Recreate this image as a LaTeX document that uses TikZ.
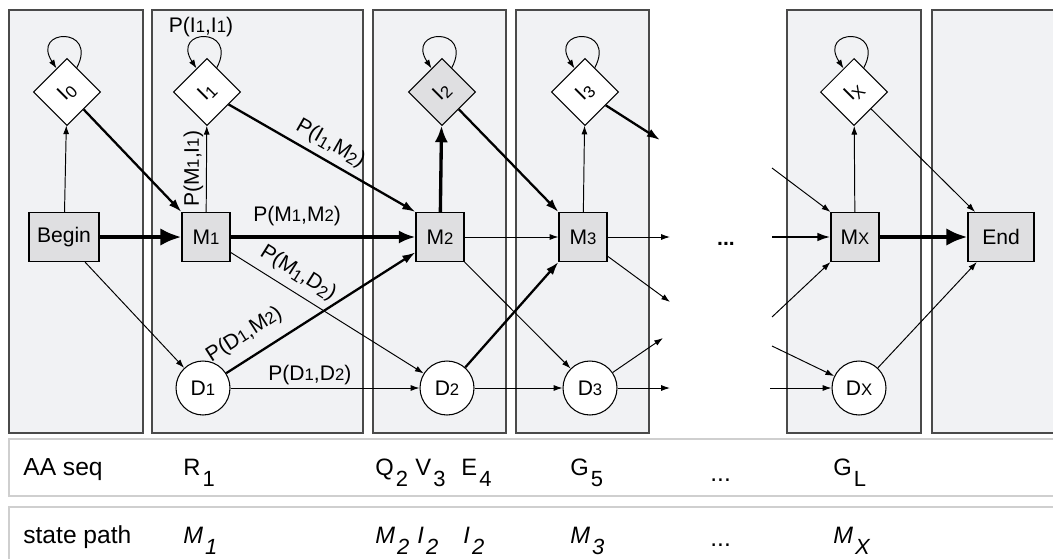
\documentclass[tikz,border=0pt]{standalone}
\usepackage{fontspec}
\setmainfont{Liberation Sans}
\usetikzlibrary{positioning,shapes.geometric,arrows.meta}

\definecolor{colfill}{HTML}{F1F2F4}
\definecolor{colline}{HTML}{4A4A4A}
\definecolor{statefill}{HTML}{DFDFE1}
\definecolor{rowline}{HTML}{CFCFCF}

% small digits, on the baseline or lowered
\newcommand{\dg}[1]{{\fontsize{9.5}{9.5}\selectfont #1}}
\newcommand{\sdg}[1]{\raisebox{-2pt}{\fontsize{9.5}{9.5}\selectfont #1}}
% large lowered index in the sequence rows
\newcommand{\lsub}[1]{\kern1.2pt\raisebox{-6.5pt}{\fontsize{12.5}{12.5}\selectfont #1}}

\begin{document}
\begin{tikzpicture}[x=0.02cm, y=-0.02cm,
			column/.style={draw=colline, fill=colfill, line width=0.6pt},
			seqrow/.style={draw=rowline, fill=white, line width=0.8pt},
			mstate/.style={rectangle, draw=black, fill=statefill, line width=0.6pt, minimum width=0.96cm, minimum height=0.98cm, inner sep=0pt, font=\fontsize{12}{14}\selectfont},
			istate/.style={diamond, draw=black, fill=white, line width=0.6pt, minimum width=1.34cm, minimum height=1.34cm, inner sep=0pt, font=\fontsize{12}{14}\selectfont},
			dstate/.style={circle, draw=black, fill=white, line width=0.6pt, minimum size=1.08cm, inner sep=0pt, font=\fontsize{12}{14}\selectfont},
			arr/.style={-{Latex[length=5pt,width=3.4pt]}, line width=0.55pt},
			arrb/.style={-{Latex[length=7.5pt,width=5pt]}, line width=1.3pt},
			arrB/.style={-{Latex[length=9.5pt,width=7.5pt]}, line width=1.9pt},
			arrH/.style={-{Latex[length=12pt,width=10pt]}, line width=2.4pt},
			lbl/.style={font=\fontsize{12}{14}\selectfont, inner sep=1.5pt},
			rowtxt/.style={anchor=base west, inner sep=0pt, font=\fontsize{13.5}{15}\selectfont},
			rowpath/.style={rowtxt, font=\itshape\fontsize{13.5}{15}\selectfont},
			rowhead/.style={anchor=base west, inner sep=0pt, font=\fontsize{14}{16}\selectfont},
		]

		\useasboundingbox (0,0) rectangle (1053,558);
		\clip (0,0) rectangle (1053,558);

		% columns
		\foreach \xa/\xb in {9/143, 152/363, 373/506, 516/649, 787/921, 932/1070}
			\draw[column] (\xa,10) rectangle (\xb,433);

		% sequence rows
		\draw[seqrow] (9,439) rectangle (1070,496);
		\draw[seqrow] (9,507) rectangle (1070,580);

		% match states
		\node[mstate, minimum width=1.4cm] (begin) at (64,237) {Begin};
		\node[mstate] (m1) at (206,237) {M\dg{1}};
		\node[mstate] (m2) at (440,237) {M\dg{2}};
		\node[mstate] (m3) at (583,237) {M\dg{3}};
		\node[mstate] (mx) at (855,237) {M\dg{X}};
		\node[mstate, minimum width=1.32cm] (end) at (1001,237) {End};

		% insert states
		\node[istate] (i0) at (67,92)  {\rotatebox{45}{I\sdg{0}}};
		\node[istate] (i1) at (207,92) {\rotatebox{45}{I\sdg{1}}};
		\node[istate, fill=statefill] (i2) at (442,92) {\rotatebox{45}{I\sdg{2}}};
		\node[istate] (i3) at (585,92) {\rotatebox{45}{I\sdg{3}}};
		\node[istate] (ix) at (854,92) {\rotatebox{45}{I\sdg{X}}};

		% delete states
		\node[dstate] (d1) at (203,388) {D\dg{1}};
		\node[dstate] (d2) at (447,388) {D\dg{2}};
		\node[dstate] (d3) at (590,388) {D\dg{3}};
		\node[dstate] (dx) at (859,388) {D\dg{X}};

		\node[font=\bfseries\fontsize{12}{12}\selectfont] (gap) at (726,244) {...};

		% self loops
		\foreach \n in {i0,i1,i2,i3,ix}
			\draw[arr] (\n.68) .. controls +(22,-42) and +(-26,-40) .. (\n.114);
		\node[lbl] (lii) at (201,27) {P(I\dg{1},I\dg{1})};

		% free ends
		\coordinate (i3out) at (660,140);
		\coordinate (m3out) at (670,237);
		\coordinate (m3dn)  at (670,302);
		\coordinate (d3up)  at (663,338);
		\coordinate (d3out) at (670,388);
		\coordinate (mxin1) at (772,168);
		\coordinate (mxin2) at (772,237);
		\coordinate (mxin3) at (772,317);
		\coordinate (dxin1) at (772,346);
		\coordinate (dxin2) at (770,388);

		% transitions
		\draw[arr] (begin) -- (i0);
		\draw[arrH] (begin) -- (m1);
		\draw[arr] (begin.-50) -- (d1);
		\draw[arrb] (i0) -- (m1.north west);

		\draw[arr] (m1) -- node[lbl, rotate=90, above] {P(M\dg{1},I\dg{1})} (i1);
		\draw[arrb] (i1) -- node[lbl, sloped, above=2pt] {P(I\sdg{1},M\sdg{2})} (m2.north west);
		\draw[arrB] (m1) -- node[lbl, above=4pt, pos=0.36] {P(M\dg{1},M\dg{2})} (m2);
		\draw[arr] (m1.-32) -- node[lbl, sloped, above=3pt, pos=0.3] {P(M\sdg{1},D\sdg{2})} (d2);
		\draw[arrb] (d1) -- node[lbl, sloped, above=5pt, pos=0.16] {P(D\dg{1},M\dg{2})} (m2.-148);
		\draw[arr] (d1) -- node[lbl, above=0pt, pos=0.42] {P(D\dg{1},D\dg{2})} (d2);

		\draw[arrB] (m2) -- (i2);
		\draw[arrb] (i2) -- (m3.north west);
		\draw[arr] (m2) -- (m3);
		\draw[arr] (m2.south east) -- (d3);
		\draw[arrb] (d2) -- (m3.south west);
		\draw[arr] (d2) -- (d3);

		\draw[arr] (m3) -- (i3);
		\draw[arrb] (i3) -- (i3out);
		\draw[arr] (m3) -- (m3out);
		\draw[arr] (m3.-38) -- (m3dn);
		\draw[arr] (d3) -- (d3up);
		\draw[arr] (d3) -- (d3out);

		\draw[arr] (mxin1) -- (mx.north west);
		\draw[arrb] (mxin2) -- (mx);
		\draw[arr] (mxin3) -- (mx.south west);
		\draw[arr] (dxin1) -- (dx);
		\draw[arr] (dxin2) -- (dx);
		\draw[arr] (mx) -- (ix);
		\draw[arr] (ix) -- (end.136);
		\draw[arrH] (mx) -- (end);
		\draw[arr] (dx) -- (end.-134);

		% amino acid sequence
		\node[rowhead] (aahead) at (23,475) {AA seq};
		\node[rowtxt] (aa1) at (183,475) {R\lsub{1}};
		\node[rowtxt] (aa2) at (375,475) {Q\lsub{2}};
		\node[rowtxt] (aa3) at (415,475) {V\lsub{3}};
		\node[rowtxt] (aa4) at (461,475) {E\lsub{4}};
		\node[rowtxt] (aa5) at (570,475) {G\lsub{5}};
		\node[rowhead] (aadots) at (710,481) {...};
		\node[rowtxt] (aal) at (833,475) {G\lsub{L}};

		% state path
		\node[rowhead] (sphead) at (23,543) {state path};
		\node[rowpath] (sp1) at (183,543) {M\lsub{\itshape 1}};
		\node[rowpath] (sp2) at (375,543) {M\lsub{\itshape 2}};
		\node[rowpath] (sp3) at (417,543) {I\lsub{\itshape 2}};
		\node[rowpath] (sp4) at (463,543) {I\lsub{\itshape 2}};
		\node[rowpath] (sp5) at (570,543) {M\lsub{\itshape 3}};
		\node[rowhead] (spdots) at (710,546) {...};
		\node[rowpath] (spx) at (833,543) {M\lsub{\itshape X}};

	\end{tikzpicture}
\end{document}
